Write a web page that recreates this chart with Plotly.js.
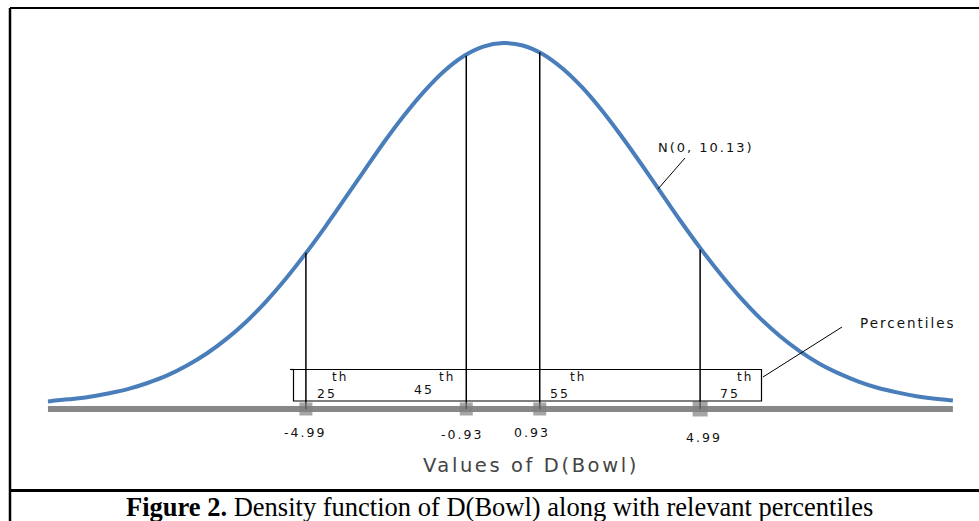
<!DOCTYPE html>
<html>
<head>
<meta charset="utf-8">
<script src="https://cdn.plot.ly/plotly-3.0.1.min.js"></script>
<style>
  html, body { margin: 0; padding: 0; background: #fff; }
  #chart { width: 979px; height: 521px; }
  g.annotation text { letter-spacing: 2px; }
  g.annotation[data-index="0"] text { letter-spacing: 0px; }
  g.annotation[data-index="1"] text { letter-spacing: 2.6px; }
</style>
</head>
<body>
<div id="chart"></div>
<script>
// ---- data ----
// density curve of D(Bowl), N(0, 10.13)
var curveX = [-11.52, -11, -10.5, -10, -9.5, -9, -8.5, -8, -7.5, -7, -6.5, -6, -5.5, -5, -4.5, -4, -3.5, -3, -2.5, -2, -1.5, -1, -0.5, 0,
              0.5, 1, 1.5, 2, 2.5, 3, 3.5, 4, 4.5, 5, 5.5, 6, 6.5, 7, 7.5, 8, 8.5, 9, 9.5, 10, 10.5, 11, 11.39];
var curveY = [0.0026, 0.0033, 0.0041, 0.0053, 0.0068, 0.0089, 0.0115, 0.0149, 0.0190, 0.0240, 0.0299, 0.0368, 0.0446, 0.0532, 0.0624, 0.0721, 0.0819, 0.0916, 0.1006, 0.1087, 0.1156, 0.1208, 0.1241, 0.1253,
              0.1245, 0.1216, 0.1167, 0.1102, 0.1023, 0.0934, 0.0839, 0.0741, 0.0643, 0.0550, 0.0463, 0.0383, 0.0312, 0.0251, 0.0199, 0.0156, 0.0122, 0.0094, 0.0072, 0.0056, 0.0043, 0.0034, 0.0029];
// percentiles
var pctValues  = [-4.99, -0.93, 0.93, 4.99];
var pctLabels  = ['-4.99', '-0.93', '0.93', '4.99'];
var pctNames   = ['25', '45', '55', '75'];
var pctDensity = [0.0535, 0.1210, 0.1222, 0.0545];
var curveName  = 'N(0, 10.13)';
var boxName    = 'Percentiles';
var axisTitle  = 'Values of D(Bowl)';
var captionBold = 'Figure 2.';
var captionText = ' Density function of D(Bowl) along with relevant percentiles';

// ---- helpers (pixel -> paper) ----
var W = 979, H = 521;
function px(x) { return x / W; }
function py(y) { return 1 - y / H; }

// vertical percentile lines
var vx = [], vy = [];
pctValues.forEach(function (v, i) { vx.push(v, v, null); vy.push(0, pctDensity[i], null); });

var traces = [
  { x: curveX, y: curveY, mode: 'lines', line: { color: '#4a7ebb', width: 4, shape: 'spline', smoothing: 0.8 }, hoverinfo: 'skip' },
  { x: vx, y: vy, mode: 'lines', line: { color: '#000', width: 1.5 }, hoverinfo: 'skip' },
  { x: pctValues, y: pctValues.map(function () { return 0; }), mode: 'markers',
    marker: { symbol: 'square', color: '#808080', size: [13, 13, 13, 15], line: { width: 0 } }, hoverinfo: 'skip' }
];

var txtColor = '#111';
var annotations = [];
// caption (index 0)
annotations.push({ xref: 'paper', yref: 'paper', x: px(500), y: py(507), xanchor: 'center', yanchor: 'middle',
  text: '<b>' + captionBold + '</b>' + captionText, showarrow: false,
  font: { family: 'Liberation Serif', size: 26.5, color: '#000' } });
// axis title (index 1)
annotations.push({ xref: 'paper', yref: 'paper', x: px(531), y: py(465), xanchor: 'center', yanchor: 'middle',
  text: axisTitle, showarrow: false, font: { family: 'DejaVu Sans', size: 19.5, color: '#444' } });
// tick labels at percentile values
var tickY = [432, 434, 432, 437], tickShift = [-1, -4, -8, 4];
pctValues.forEach(function (v, i) {
  annotations.push({ xref: 'x', yref: 'paper', x: v, y: py(tickY[i]), xshift: tickShift[i], xanchor: 'center', yanchor: 'middle',
    text: pctLabels[i], showarrow: false, font: { family: 'DejaVu Sans', size: 12.5, color: txtColor } });
});
// percentile names inside box
var numPos = [[327, 393], [424, 389], [560, 393], [730, 393]];
var thPos  = [[340, 377], [447, 377], [578, 377], [745, 377]];
pctNames.forEach(function (n, i) {
  annotations.push({ xref: 'paper', yref: 'paper', x: px(numPos[i][0]), y: py(numPos[i][1]), xanchor: 'center', yanchor: 'middle',
    text: n, showarrow: false, font: { family: 'DejaVu Sans', size: 12.5, color: txtColor } });
  annotations.push({ xref: 'paper', yref: 'paper', x: px(thPos[i][0]), y: py(thPos[i][1]), xanchor: 'center', yanchor: 'middle',
    text: 'th', showarrow: false, font: { family: 'DejaVu Sans', size: 12, color: txtColor } });
});
// curve label and box label
annotations.push({ xref: 'paper', yref: 'paper', x: px(706), y: py(147), xanchor: 'center', yanchor: 'middle',
  text: curveName, showarrow: false, font: { family: 'DejaVu Sans', size: 13, color: txtColor } });
annotations.push({ xref: 'paper', yref: 'paper', x: px(908), y: py(323), xanchor: 'center', yanchor: 'middle',
  text: boxName, showarrow: false, font: { family: 'DejaVu Sans', size: 13.5, color: txtColor } });

var shapes = [
  // outer frame
  { type: 'line', xref: 'paper', yref: 'paper', x0: px(10), x1: px(979), y0: py(8), y1: py(8), line: { color: '#000', width: 2 } },
  { type: 'line', xref: 'paper', yref: 'paper', x0: px(10), x1: px(10), y0: py(8), y1: py(521), line: { color: '#000', width: 2.5 } },
  { type: 'line', xref: 'paper', yref: 'paper', x0: px(10), x1: px(979), y0: py(490.5), y1: py(490.5), line: { color: '#000', width: 3 } },
  // gray axis bar
  { type: 'line', xref: 'x', yref: 'y', x0: curveX[0], x1: 11.39, y0: 0, y1: 0, layer: 'below', line: { color: '#888888', width: 6 } },
  // percentile box
  { type: 'rect', xref: 'paper', yref: 'paper', x0: px(293.5), x1: px(761.5), y0: py(369.5), y1: py(401), line: { color: '#000', width: 1.2 } },
  { type: 'line', xref: 'paper', yref: 'paper', x0: px(290), x1: px(294), y0: py(369.5), y1: py(369.5), line: { color: '#000', width: 1.2 } },
  // leader lines
  { type: 'line', xref: 'paper', yref: 'paper', x0: px(658), y0: py(189), x1: px(685), y1: py(158), line: { color: '#000', width: 1 } },
  { type: 'line', xref: 'paper', yref: 'paper', x0: px(763), y0: py(377), x1: px(842), y1: py(327), line: { color: '#000', width: 1 } }
];

var layout = {
  width: W, height: H,
  margin: { l: 0, r: 0, t: 0, b: 0, pad: 0 },
  paper_bgcolor: '#fff', plot_bgcolor: '#fff',
  showlegend: false,
  xaxis: { range: [-503 / 39.5, (W - 503) / 39.5], visible: false, fixedrange: true },
  yaxis: { range: [-(H - 409) / 2920, 409 / 2920], visible: false, fixedrange: true },
  annotations: annotations,
  shapes: shapes
};

Plotly.newPlot('chart', traces, layout, { displayModeBar: false, staticPlot: true });
</script>
</body>
</html>
